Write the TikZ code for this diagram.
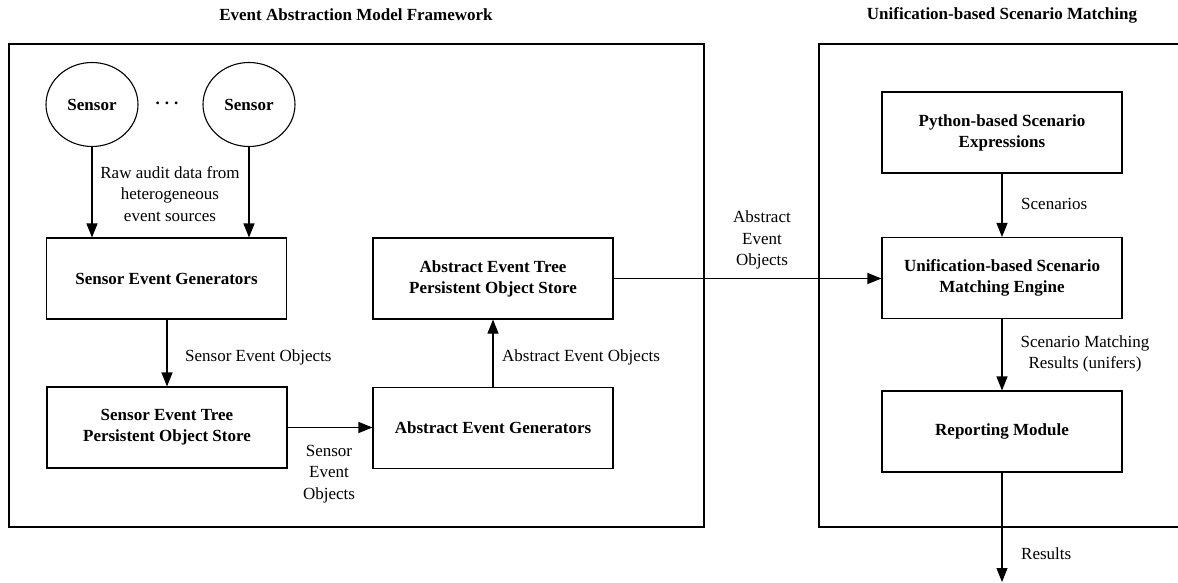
\documentclass[tikz,border=0pt]{standalone}
\usepackage{fontspec}
\setmainfont{Liberation Serif}
\usetikzlibrary{shapes.geometric,arrows.meta}
\tikzset{
  box/.style={draw, line width=1.1pt, minimum width=240pt, minimum height=81pt, inner sep=0pt, align=center, font=\fontsize{17}{21}\selectfont\bfseries},
  sensor/.style={draw, ellipse, line width=1.1pt, minimum width=92pt, minimum height=84pt, inner sep=0pt, font=\fontsize{17}{21}\selectfont\bfseries},
  lbl/.style={inner sep=0pt, align=center, font=\fontsize{17}{21.5}\selectfont},
  ttl/.style={inner sep=0pt, font=\fontsize{17}{21}\selectfont\bfseries},
  frame/.style={draw, line width=1.1pt},
  arr/.style={line width=1.1pt, -{Triangle[length=14pt,width=11pt]}}
}
\begin{document}
\begin{tikzpicture}[x=1pt,y=-1pt]
\useasboundingbox (0,0) rectangle (1178,583);
% titles
\node[ttl] (t1) at (356,15) {Event Abstraction Model Framework};
\node[ttl] (t2) at (1002,15) {Unification-based Scenario Matching};
% frames
\draw[frame] (9,44) rectangle (704,527);
\draw[frame] (819,44) rectangle (1182,527);
% sensors
\node[sensor] (s1) at (92,104.5) {Sensor};
\node[sensor] (s2) at (249,104.5) {Sensor};
\node[lbl, font=\fontsize{17}{21}\selectfont\bfseries] (dots) at (167,103) {.\hspace{5pt}.\hspace{5pt}.};
% boxes
\node[box] (seg) at (166.5,278.5) {Sensor Event Generators};
\node[box] (aet) at (493,278.5) {Abstract Event Tree\\Persistent Object Store};
\node[box] (set) at (167,427.5) {Sensor Event Tree\\Persistent Object Store};
\node[box] (aeg) at (493,428) {Abstract Event Generators};
\node[box] (py) at (1002,132.5) {Python-based Scenario\\Expressions};
\node[box] (ume) at (1002,278) {Unification-based Scenario\\Matching Engine};
\node[box] (rep) at (1002,431.5) {Reporting Module};
\coordinate (out) at (1002,582);
% connectors
\draw[arr] (s1.south) -- (s1.south |- seg.north);
\draw[arr] (s2.south) -- (s2.south |- seg.north);
\draw[arr] (seg.south -| set.north) -- (set.north);
\draw[arr] (set.east) -- (set.east -| aeg.west);
\draw[arr] (aeg.north) -- (aet.south);
\draw[arr] (aet.east) -- (aet.east -| ume.west);
\draw[arr] (py.south) -- (ume.north);
\draw[arr] (ume.south) -- (rep.north);
\draw[arr] (rep.south) -- (out);
% labels
\node[lbl] (l1) at (170,194) {Raw audit data from\\heterogeneous\\event sources};
\node[lbl, anchor=west] (l2) at (185,357) {Sensor Event Objects};
\node[lbl] (l3) at (329,474) {Sensor\\Event\\Objects};
\node[lbl, anchor=west] (l4) at (502,357) {Abstract Event Objects};
\node[lbl] (l5) at (762,240) {Abstract\\Event\\Objects};
\node[lbl, anchor=west] (l6) at (1021,204) {Scenarios};
\node[lbl] (l7) at (1085,354) {Scenario Matching\\Results (unifers)};
\node[lbl, anchor=west] (l8) at (1021,554) {Results};
\end{tikzpicture}
\end{document}
